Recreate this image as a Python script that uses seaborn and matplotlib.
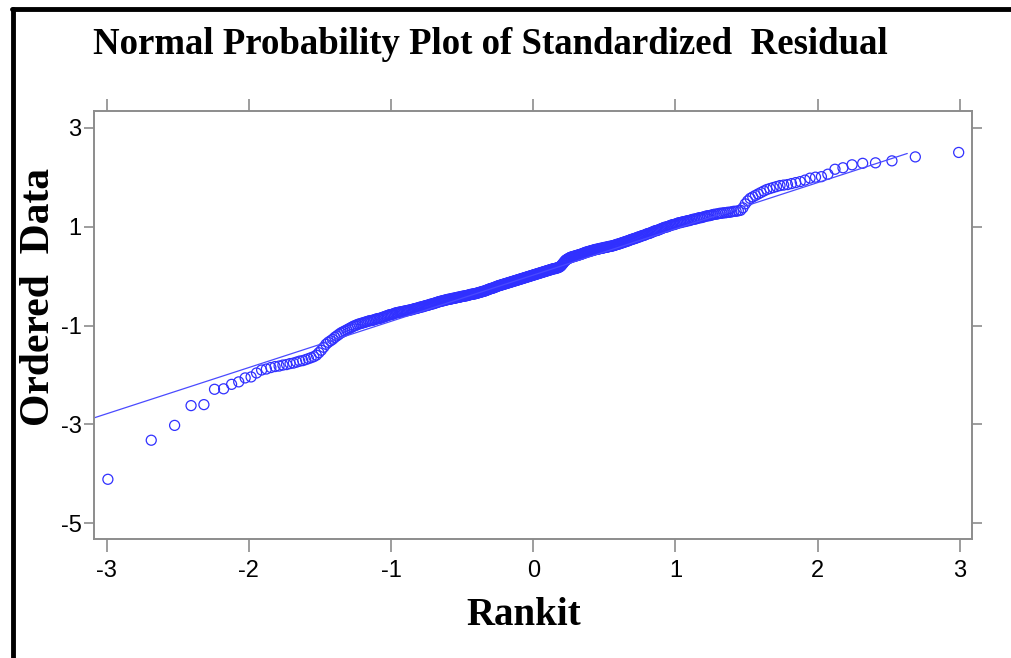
import statistics
import numpy as np
import pandas as pd
import matplotlib
matplotlib.use("Agg")
import matplotlib.pyplot as plt
from matplotlib.lines import Line2D
import seaborn as sns

# Ordered standardized residuals (sorted ascending)
ordered_residuals = [
    -4.11, -3.32, -3.02, -2.62, -2.60, -2.29, -2.28, -2.19, -2.14, -2.06,
    -2.04, -1.96, -1.90, -1.88, -1.85, -1.83, -1.82, -1.80, -1.79, -1.77,
    -1.76, -1.74, -1.72, -1.71, -1.69, -1.67, -1.65, -1.63, -1.60, -1.55,
    -1.50, -1.44, -1.38, -1.34, -1.31, -1.28, -1.24, -1.21, -1.18, -1.15,
    -1.13, -1.11, -1.09, -1.07, -1.05, -1.03, -1.01, -1.00, -0.98, -0.97,
    -0.96, -0.95, -0.94, -0.93, -0.92, -0.91, -0.90, -0.90, -0.89, -0.88,
    -0.87, -0.86, -0.86, -0.85, -0.84, -0.83, -0.82, -0.81, -0.80, -0.79,
    -0.78, -0.78, -0.77, -0.76, -0.75, -0.74, -0.74, -0.73, -0.73, -0.72,
    -0.72, -0.71, -0.71, -0.70, -0.70, -0.69, -0.69, -0.68, -0.68, -0.67,
    -0.66, -0.66, -0.65, -0.65, -0.64, -0.63, -0.63, -0.62, -0.62, -0.61,
    -0.60, -0.60, -0.59, -0.59, -0.58, -0.57, -0.57, -0.56, -0.56, -0.55,
    -0.54, -0.54, -0.53, -0.52, -0.52, -0.51, -0.51, -0.50, -0.50, -0.49,
    -0.49, -0.48, -0.48, -0.47, -0.47, -0.47, -0.46, -0.46, -0.45, -0.45,
    -0.45, -0.44, -0.44, -0.43, -0.43, -0.43, -0.42, -0.42, -0.41, -0.41,
    -0.41, -0.40, -0.40, -0.40, -0.39, -0.39, -0.38, -0.38, -0.37, -0.37,
    -0.37, -0.36, -0.36, -0.36, -0.35, -0.35, -0.34, -0.34, -0.33, -0.33,
    -0.32, -0.32, -0.31, -0.31, -0.30, -0.30, -0.29, -0.28, -0.28, -0.27,
    -0.26, -0.26, -0.25, -0.25, -0.24, -0.24, -0.23, -0.22, -0.22, -0.21,
    -0.20, -0.20, -0.19, -0.19, -0.18, -0.18, -0.17, -0.17, -0.16, -0.16,
    -0.15, -0.15, -0.14, -0.14, -0.13, -0.13, -0.12, -0.12, -0.11, -0.11,
    -0.10, -0.10, -0.09, -0.09, -0.08, -0.08, -0.07, -0.07, -0.06, -0.06,
    -0.05, -0.05, -0.04, -0.04, -0.03, -0.03, -0.02, -0.02, -0.01, -0.01,
    0.00, 0.00, 0.01, 0.01, 0.02, 0.02, 0.03, 0.03, 0.04, 0.04,
    0.05, 0.05, 0.06, 0.06, 0.07, 0.07, 0.08, 0.08, 0.09, 0.09,
    0.10, 0.10, 0.11, 0.11, 0.12, 0.12, 0.13, 0.13, 0.14, 0.14,
    0.15, 0.15, 0.15, 0.16, 0.16, 0.17, 0.17, 0.18, 0.19, 0.20,
    0.22, 0.24, 0.26, 0.28, 0.30, 0.32, 0.33, 0.34, 0.35, 0.36,
    0.37, 0.38, 0.38, 0.39, 0.39, 0.40, 0.40, 0.41, 0.41, 0.42,
    0.42, 0.43, 0.43, 0.44, 0.44, 0.45, 0.46, 0.46, 0.47, 0.48,
    0.48, 0.49, 0.49, 0.50, 0.50, 0.51, 0.51, 0.52, 0.52, 0.53,
    0.53, 0.54, 0.54, 0.54, 0.55, 0.55, 0.56, 0.56, 0.56, 0.57,
    0.57, 0.58, 0.58, 0.58, 0.59, 0.59, 0.60, 0.60, 0.60, 0.61,
    0.61, 0.62, 0.62, 0.63, 0.64, 0.64, 0.65, 0.65, 0.66, 0.67,
    0.67, 0.68, 0.69, 0.69, 0.70, 0.71, 0.71, 0.72, 0.73, 0.74,
    0.74, 0.75, 0.76, 0.76, 0.77, 0.78, 0.79, 0.79, 0.80, 0.81,
    0.82, 0.82, 0.83, 0.84, 0.85, 0.86, 0.86, 0.87, 0.88, 0.89,
    0.90, 0.91, 0.92, 0.92, 0.93, 0.94, 0.95, 0.96, 0.97, 0.98,
    0.99, 0.99, 1.00, 1.01, 1.02, 1.03, 1.04, 1.04, 1.05, 1.06,
    1.07, 1.08, 1.08, 1.09, 1.10, 1.10, 1.11, 1.12, 1.12, 1.13,
    1.14, 1.15, 1.15, 1.16, 1.17, 1.18, 1.18, 1.19, 1.20, 1.21,
    1.22, 1.22, 1.23, 1.24, 1.25, 1.25, 1.26, 1.27, 1.27, 1.28,
    1.28, 1.29, 1.29, 1.30, 1.31, 1.31, 1.32, 1.33, 1.38, 1.46,
    1.52, 1.57, 1.60, 1.63, 1.66, 1.69, 1.72, 1.75, 1.77, 1.79,
    1.81, 1.83, 1.84, 1.85, 1.87, 1.89, 1.91, 1.94, 1.98, 2.00,
    2.01, 2.06, 2.16, 2.19, 2.25, 2.28, 2.29, 2.33, 2.41, 2.50,
]

# Reference line (slope / intercept) and the rankit span it covers
fit_slope = 0.935
fit_intercept = 0.02
fit_span = [-3.09, 2.63]

x_ticks = [-3, -2, -1, 0, 1, 2, 3]
y_ticks = [-5, -3, -1, 1, 3]

# Rankits (Blom plotting positions) for each ordered value
n = len(ordered_residuals)
nd = statistics.NormalDist()
rankits = [nd.inv_cdf((i - 0.375) / (n + 0.25)) for i in range(1, n + 1)]
df = pd.DataFrame({"Rankit": rankits, "Ordered Data": ordered_residuals})

fit_df = pd.DataFrame({"x": fit_span,
                       "y": [fit_intercept + fit_slope * v for v in fit_span]})

sns.set_style("white")
plt.rcParams["font.family"] = ["Liberation Sans", "DejaVu Sans"]
plt.rcParams["text.color"] = "black"
plt.rcParams["xtick.labelcolor"] = "black"
plt.rcParams["ytick.labelcolor"] = "black"

fig = plt.figure(figsize=(10.11, 6.58), dpi=100)
ax = fig.add_axes([0.093, 0.1809, 0.8684, 0.6504])

sns.lineplot(data=fit_df, x="x", y="y", ax=ax, color="#4a4aff", linewidth=0.9)
sns.scatterplot(data=df, x="Rankit", y="Ordered Data", ax=ax, marker="o",
                s=52, facecolor="none", edgecolor="#3030ff", linewidth=0.9)

ax.set_xlim(-3.089, 3.085)
ax.set_ylim(-5.317, 3.338)
ax.set_xticks(x_ticks)
ax.set_yticks(y_ticks)
ax.set_xticklabels([str(t) for t in x_ticks])
ax.set_yticklabels([str(t) for t in y_ticks])
ax.set_xlabel("")
ax.set_ylabel("")

for side in ["left", "right", "top", "bottom"]:
    ax.spines[side].set_visible(True)
    ax.spines[side].set_color("#8c8c8c")
    ax.spines[side].set_linewidth(1.4)

ax.tick_params(axis="both", which="major", direction="out",
               width=1.2, color="#8c8c8c", labelsize=17,
               top=True, right=True, labeltop=False, labelright=False,
               bottom=True, left=True)
ax.tick_params(axis="x", length=9, pad=6)
ax.tick_params(axis="y", length=7, pad=2)

# Title and axis labels
fig.text(0.485, 0.932, "Normal Probability Plot of Standardized  Residual",
         ha="center", va="center", fontsize=26.5, fontweight="bold",
         family="Liberation Serif", color="black")
fig.text(0.518, 0.065, "Rankit", ha="center", va="center", fontsize=28,
         fontweight="bold", family="Liberation Serif", color="black")
fig.text(0.039, 0.548, "Ordered  Data", ha="center", va="center",
         rotation=90, fontsize=30, fontweight="bold",
         family="Liberation Serif", color="black")

# Frame lines along the top and left edges of the figure
fig.add_artist(Line2D([0.012, 1.0], [0.9865, 0.9865], color="black",
                      linewidth=3.5, transform=fig.transFigure))
fig.add_artist(Line2D([0.0125, 0.0125], [0.0, 0.9865], color="black",
                      linewidth=3.5, transform=fig.transFigure))

fig.savefig("out.png", dpi=100)
